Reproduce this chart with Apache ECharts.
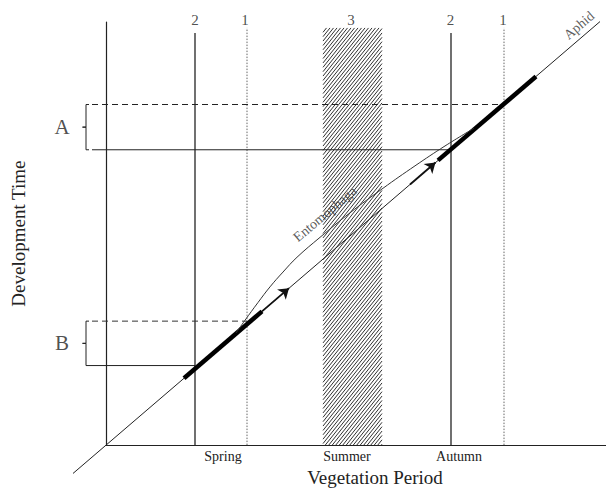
<!DOCTYPE html>
<html>
<head>
<meta charset="utf-8">
<script src="https://cdn.jsdelivr.net/npm/echarts@6/dist/echarts.min.js"></script>
<style>html,body{margin:0;padding:0;background:#fff}#c{width:606px;height:492px}</style>
</head>
<body>
<div id="c"></div>
<script>
// ---- data (x: vegetation period units, y: development time units) ----
const seasonNames = ['Spring', 'Summer', 'Autumn'];
const seasonX = [23.4, 48.2, 70.6];

const phaseNames = ['2', '1', '3', '2', '1'];
const phaseLabelX = [17.8, 27.8, 49.0, 68.9, 79.4];
const phaseLabelY = 100.5;

const solidLineX = [17.8, 69.0];
const solidLineTop = 97.4;
const dottedLineX = [28.2, 79.6];
const dottedLineTop = 98.6;
const summerBand = [43.4, 55.2, 0, 98.6]; // xStart, xEnd, yBottom, yTop

const aphidLine = [[-6.6, -6.7], [98.8, 100.1]];
const aphidThick = [
  [[15.6, 15.8], [31.2, 31.6]],
  [[66.4, 67.3], [86.0, 87.1]]
];
const aphidArrows = [
  [[31.2, 31.6], [36.6, 37.1]],
  [[60.8, 61.6], [65.9, 66.8]]
];

const entomophaga = [
  [26.0, 26.5], [27.8, 29.5], [30.4, 33.7], [32.8, 37.4], [35.4, 40.9],
  [38.2, 44.4], [42.8, 49.1], [48.8, 54.9], [55.4, 60.7], [61.8, 66.0],
  [67.8, 70.7], [73.6, 74.9]
];

const levelStartX = -2.8;
const levelA = [80.5, 69.8];      // dashed top, solid bottom
const levelAEndX = [79.6, 69.0];
const levelB = [29.3, 18.8];
const levelBEndX = [28.2, 17.8];
const bracketX = -4.0;
const rangeNames = ['A', 'B'];
const rangeLabelX = -8.8;

const curveLabels = [
  {name: 'Entomophaga', value: [43.8, 54.6], rotate: 40},
  {name: 'Aphid', value: [94.6, 99.2], rotate: 41}
];

// ---- build ----
const SERIF = 'Liberation Serif';
const series = [];

// summer hatched band
series.push({
  type: 'custom',
  silent: true,
  data: [summerBand],
  renderItem: function (params, api) {
    const p0 = api.coord([api.value(0), api.value(3)]);
    const p1 = api.coord([api.value(1), api.value(2)]);
    const x0 = p0[0], y0 = p0[1], x1 = p1[0], y1 = p1[1];
    const children = [];
    const k = 1.25, h = 3.5, stepC = k * h;
    for (let c = k * x0 + y0; c <= k * x1 + y1; c += stepC) {
      const xa = Math.max(x0, (c - y1) / k), xb = Math.min(x1, (c - y0) / k);
      if (xb <= xa) continue;
      children.push({type: 'line', shape: {x1: xa, y1: c - k * xa, x2: xb, y2: c - k * xb},
        style: {stroke: '#1a1a1a', lineWidth: 0.9}});
    }
    return {type: 'group', children: children};
  }
});

function seg(coords, style, extra) {
  return Object.assign({
    type: 'lines', coordinateSystem: 'cartesian2d', clip: false, silent: true,
    polyline: true, symbol: 'none',
    data: [{coords: coords}],
    lineStyle: Object.assign({color: '#222', width: 1, opacity: 1}, style)
  }, extra || {});
}

// vertical lines
solidLineX.forEach(x => series.push(seg([[x, 0], [x, solidLineTop]], {color: '#111', width: 1.2})));
dottedLineX.forEach(x => series.push(seg([[x, 0], [x, dottedLineTop]], {color: '#666', width: 1, type: [1.5, 1.5]})));

// horizontal levels
series.push(seg([[levelStartX, levelA[0]], [levelAEndX[0], levelA[0]]], {color: '#222', type: [6, 4]}));
series.push(seg([[levelStartX, levelA[1]], [levelAEndX[1], levelA[1]]], {color: '#222'}));
series.push(seg([[levelStartX, levelB[0]], [levelBEndX[0], levelB[0]]], {color: '#333', type: [6, 4]}));
series.push(seg([[levelStartX - 0.6, levelB[1]], [levelBEndX[1], levelB[1]]], {color: '#222'}));

// brackets
[levelA, levelB].forEach(lv => {
  const mid = (lv[0] + lv[1]) / 2;
  series.push(seg([[bracketX + 0.6, lv[0]], [bracketX, lv[0]], [bracketX, mid], [bracketX - 0.7, mid]], {color: '#222'}));
  series.push(seg([[bracketX - 0.7, mid], [bracketX, mid], [bracketX, lv[1]], [bracketX + 0.6, lv[1]]], {color: '#222'}));
});

// aphid line
series.push(seg(aphidLine, {color: '#222', width: 1}));
// entomophaga curve
series.push({
  type: 'line', data: entomophaga, smooth: 0.4, clip: false, silent: true,
  showSymbol: false, symbol: 'none',
  lineStyle: {color: '#333', width: 1}
});
// thick parts
aphidThick.forEach(c => series.push(seg(c, {color: '#000', width: 4.5})));
// arrows
aphidArrows.forEach(c => series.push(seg(c, {color: '#111', width: 1.8}, {polyline: false, symbol: ['none', 'arrow'], symbolSize: [7, 10]})));

// text labels
series.push({
  type: 'scatter', clip: false, silent: true, symbolSize: 0,
  data: phaseNames.map((n, i) => ({name: n, value: [phaseLabelX[i], phaseLabelY]})),
  label: {show: true, position: 'inside', formatter: '{b}', fontFamily: SERIF, fontSize: 15, color: '#222'}
});
series.push({
  type: 'scatter', clip: false, silent: true, symbolSize: 0,
  data: rangeNames.map((n, i) => ({name: n, value: [rangeLabelX, i === 0 ? (levelA[0] + levelA[1]) / 2 : (levelB[0] + levelB[1]) / 2]})),
  label: {show: true, position: 'inside', formatter: '{b}', fontFamily: SERIF, fontSize: 21, color: '#222'}
});
series.push({
  type: 'scatter', clip: false, silent: true, symbolSize: 0,
  data: curveLabels.map(d => ({name: d.name, value: d.value, label: {rotate: d.rotate}})),
  label: {show: true, position: 'inside', formatter: '{b}', fontFamily: SERIF, fontSize: 14, color: '#333'}
});

const chart = echarts.init(document.getElementById('c'), null, {renderer: 'svg'});
chart.setOption({
  animation: false,
  backgroundColor: '#fff',
  grid: {left: 106, top: 22, width: 500, height: 430},
  xAxis: {
    type: 'value', min: 0, max: 100,
    splitLine: {show: false},
    axisLine: {show: true, onZero: false, lineStyle: {color: '#222', width: 1.2}},
    axisTick: {show: false},
    axisLabel: {
      show: true, customValues: seasonX, margin: 4,
      fontFamily: SERIF, fontSize: 14, color: '#222',
      formatter: v => {
        const i = seasonX.findIndex(s => Math.abs(s - v) < 0.01);
        return i >= 0 ? seasonNames[i] : '';
      }
    },
    name: 'Vegetation Period', nameLocation: 'middle', nameGap: 21,
    nameTextStyle: {fontFamily: SERIF, fontSize: 19, color: '#222', padding: [0, 0, 0, 38]}
  },
  yAxis: {
    type: 'value', min: 0, max: 100,
    splitLine: {show: false},
    axisLine: {show: true, onZero: false, lineStyle: {color: '#222', width: 1.2}},
    axisTick: {show: false},
    axisLabel: {show: false},
    name: 'Development Time', nameLocation: 'middle', nameGap: 78, nameRotate: 90,
    nameTextStyle: {fontFamily: SERIF, fontSize: 19, color: '#222'}
  },
  series: series
});
</script>
</body>
</html>
